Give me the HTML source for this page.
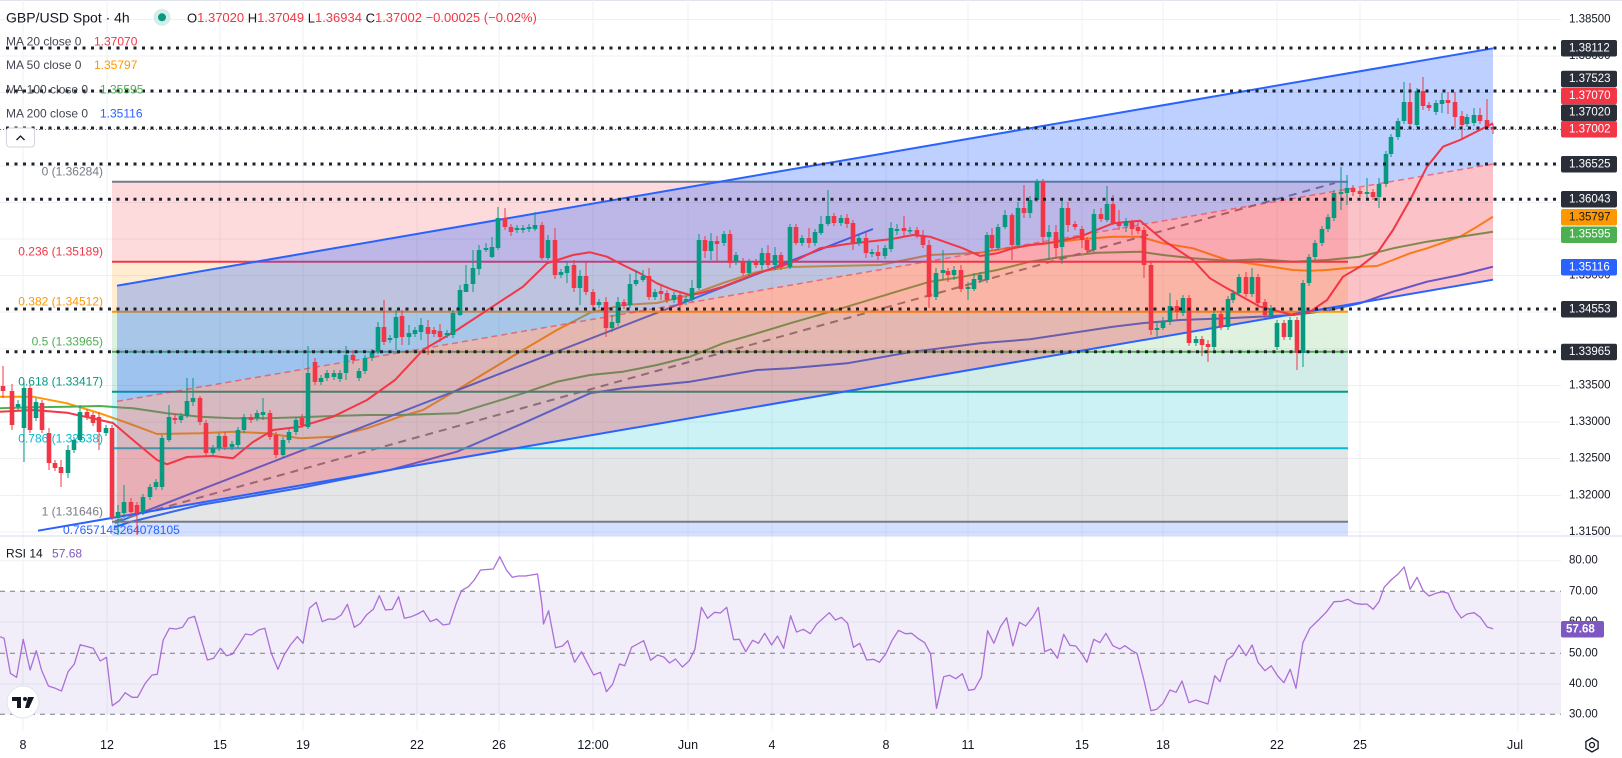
<!DOCTYPE html>
<html><head><meta charset="utf-8"><style>
html,body{margin:0;padding:0;background:#fff;}
svg{display:block;font-family:"Liberation Sans",sans-serif;}
</style></head><body>
<svg width="1622" height="758" viewBox="0 0 1622 758" xmlns="http://www.w3.org/2000/svg">
<rect width="1622" height="758" fill="#fff"/>
<line x1="0" y1="0.5" x2="1622" y2="0.5" stroke="#e0e3eb"/>
<!-- grid -->
<g stroke="#eef0f4" stroke-width="1">
<path d="M23 0V731M107 0V731M220 0V731M303 0V731M417 0V731M499 0V731M593 0V731M688 0V731M772 0V731M886 0V731M968 0V731M1082 0V731M1163 0V731M1277 0V731M1360 0V731M1518 0V731"/>
<path d="M0 19.5H1561M0 56H1561M0 92.5H1561M0 129H1561M0 166H1561M0 202.5H1561M0 239H1561M0 275.5H1561M0 312H1561M0 349H1561M0 385.5H1561M0 422H1561M0 458.5H1561M0 495.5H1561M0 532H1561"/>
<path d="M0 560.7H1561M0 622H1561M0 684H1561"/>
</g>
<!-- RSI pane -->
<rect x="0" y="591.3" width="1561" height="123" fill="rgba(126,87,194,0.1)"/>
<g stroke="#787b86" stroke-width="1" stroke-dasharray="5 5">
<path d="M0 591.3H1561M0 653.3H1561M0 714.3H1561"/>
</g>
<polyline fill="none" stroke="#ab6fd8" stroke-width="1.3" stroke-linejoin="round" points="0,636.7 4.1,638.3 10.4,673.3 16.6,677.3 23.2,639.3 30.1,670 36.3,650.7 41.5,670 48.4,686 55.3,688.3 61.5,691 68.1,671.7 74.3,664 80.2,644.7 93.3,648.3 100.2,661 106.5,657.3 112.3,705.7 119.3,700.7 125.1,692.7 132,697.3 137.6,697.3 145.2,683.3 152.1,675 157.3,674.3 163.2,640 169.4,628.3 176.3,629 182.5,627.3 188.4,618.3 194.6,616.3 200.5,636.7 207.4,660 213.6,658.3 220.5,648.3 226.4,655.7 232.3,654.3 238.5,645 245.4,634 251.6,635 258.6,630 264.8,628.3 271.3,653.3 277.9,669.3 284.1,655 290.4,645 297.3,636.7 303.1,643.3 309.4,608.3 316.3,602.3 322.2,621.7 328.4,619 334.6,619.3 341.2,615 347.4,604.3 354.3,627.3 360.5,623.3 366.4,615 373.3,609.3 379.3,595.7 385.4,610 392.3,609.3 398.6,596.7 404.4,618.3 411.3,616.7 417.6,614 423.4,610.7 430.3,621.7 436.6,619 443.1,625 449.4,624 456.3,603.3 461.5,590.7 468.4,586.7 474.3,580 480.5,570 493.3,569 499.8,556.7 506.4,570 512.3,577.3 518.5,576 525.4,576 537.5,574 542,605 543.5,624 548.6,610.7 555.6,647.7 562.5,646 567.7,640.7 574.6,662.3 581.5,651.7 593.6,675 600.5,672.3 606.4,691.7 612.6,684.3 619.5,664 624.7,665.7 631.6,647.3 643.7,640.7 650.6,660.3 657.5,655 663.7,657 669.6,663 675.5,659 682.4,667 689.3,660.7 694.9,649.3 701.4,607.3 707.6,618.3 714.6,612.3 720.4,613 726.7,607.3 733.6,639.7 739.4,639.3 745.7,651.7 752.6,640.3 758.5,643.3 764.7,633.3 771.6,645 777.5,636 783.7,648.3 790.6,615.7 796.5,632 803.4,629.3 810.3,633.7 816.5,624.3 829.3,612.7 835.5,620 841.4,617.3 847.6,623.3 853.5,647.3 859.7,643.3 866.7,660 873.6,659.3 879.4,662.3 885.7,654 891.9,640.7 898.5,630.3 905.4,633.7 911.6,633.3 917.8,638.3 924.7,642.7 930.6,654 936.5,708.3 943.7,676.7 949.6,675.3 955.8,678.7 962.4,673.7 968.6,690.3 974.5,689.3 981.4,677 987.6,630.7 993.9,643.3 1000.4,626.7 1006.6,617.7 1012.9,646 1019.4,622.3 1025.6,626 1032.6,617.3 1038.4,607.3 1044.7,651.7 1050.9,649 1057.5,658.3 1063.7,634.3 1069.9,645.3 1075.8,646 1082,654 1086.9,662.3 1093.8,639.3 1100,642.7 1105.9,633.3 1112.8,645.7 1119.8,649 1124.9,645.7 1131.9,650.7 1137,653.3 1143.9,680 1150.9,710.7 1156.7,709.3 1163,703.3 1169.9,690 1176.1,692.3 1182,681 1188.9,702.7 1195.8,700 1207.9,704 1214.8,675.7 1220,681.7 1226.9,660 1232.8,655.7 1239,645 1245.9,655.7 1252.1,645 1258,662.3 1264.9,670.7 1271.2,665.7 1277.7,676 1283.9,682.7 1290.2,669.3 1296,688.3 1302.9,642.7 1309.9,628.3 1318.5,620 1326.1,612.3 1334.1,601.7 1342,601.3 1347.9,599.3 1354.8,603.3 1361.7,604.3 1366.9,604 1373.1,609.3 1379,601.7 1384.2,587.3 1391.1,580 1398,574 1404.2,567 1410.1,589.3 1417,577.3 1423.2,590.7 1429.1,596 1436,593.3 1442.2,591.7 1448.1,593.3 1455,609 1461.3,618 1467.1,614 1474.1,612.7 1480.3,617.3 1487.2,627 1493.1,628.7"/>

<!-- MAs under drawings -->
<g fill="none" stroke-width="2" stroke-linejoin="round">
<polyline stroke="#ff9800" points="0,396.7 33,396.7 67,403.3 100,413.3 133,425 157,434 200,433.3 233,431.7 267,433.3 300,438.3 333,436.7 367,428.3 400,416.7 423,410 457,390 490,370 523,350 540,340 557,330 590,312.7 623,305 657,303 690,295 723,283 757,272 790,267 880,265 930,255 980,252.7 1013,247.3 1047,243.3 1080,239.3 1113,236.7 1140,236.7 1163,243.3 1193,248.3 1227,260 1260,265 1293,270 1310,270.7 1327,270 1360,266.7 1377,266 1393,260 1410,253.3 1427,248.3 1460,236.7 1477,226.7 1493,216.7"/>
<polyline stroke="#4caf50" points="0,408.3 33,407.3 67,406.7 100,406 133,408.3 167,413.3 200,416.7 233,418.3 267,418.3 300,417.3 333,416 367,415 400,415 457,413.3 490,403.3 523,393.3 557,381.7 590,375 623,371.7 657,365 690,356.7 723,343.3 757,333.3 790,323.3 813,316.7 847,306.7 880,296.7 913,286.7 930,281.7 963,276.7 997,270 1030,261.7 1063,256.7 1097,252.7 1140,251.7 1163,255 1193,258.3 1227,260.7 1260,259.3 1293,261.7 1327,260 1360,256.7 1393,248.3 1427,241.7 1460,236.7 1493,231.7"/>
<polyline stroke="#2962ff" points="115,527 130,522 200,505 300,488 390,470 457,451.7 523,423.3 590,393.3 623,388.3 690,381.7 757,370 790,368.3 847,363.3 913,351.7 980,343.3 1030,339.3 1080,331.7 1113,326.7 1147,322.7 1180,320 1227,318.3 1293,315 1327,310.7 1360,303.3 1393,291.7 1427,281.7 1460,275 1493,266.7"/>
</g>
<line x1="115" y1="523" x2="873" y2="229" stroke="#2962ff" stroke-width="2"/>
<line x1="115" y1="521" x2="1335" y2="183" stroke="#787b86" stroke-width="2" stroke-dasharray="8 6"/>

<!-- Fib retracement -->
<rect x="112" y="181.7" width="1236" height="80" fill="rgba(242,54,69,0.18)"/>
<rect x="112" y="261.7" width="1236" height="50" fill="rgba(255,152,0,0.18)"/>
<rect x="112" y="311.7" width="1236" height="40" fill="rgba(76,175,80,0.18)"/>
<rect x="112" y="351.7" width="1236" height="40" fill="rgba(8,153,129,0.18)"/>
<rect x="112" y="391.7" width="1236" height="56.6" fill="rgba(0,188,212,0.2)"/>
<rect x="112" y="448.3" width="1236" height="73.4" fill="rgba(120,123,134,0.2)"/>
<rect x="112" y="521.7" width="1236" height="14" fill="rgba(41,98,255,0.2)"/>
<g stroke-width="2">
<line x1="112" y1="181.7" x2="1348" y2="181.7" stroke="#787b86"/>
<line x1="112" y1="261.7" x2="1348" y2="261.7" stroke="#f23645"/>
<line x1="112" y1="311.7" x2="1348" y2="311.7" stroke="#ff9800"/>
<line x1="112" y1="351.7" x2="1348" y2="351.7" stroke="#4caf50"/>
<line x1="112" y1="391.7" x2="1348" y2="391.7" stroke="#089981"/>
<line x1="112" y1="448.3" x2="1348" y2="448.3" stroke="#00bcd4"/>
<line x1="112" y1="521.7" x2="1348" y2="521.7" stroke="#787b86"/>
</g>

<!-- Parallel channel -->
<polygon points="117,285.7 1493,48.3 1493,164 117,401.4" fill="rgba(41,98,255,0.3)"/>
<polygon points="117,401.4 1493,164 1493,279.7 117,517.1" fill="rgba(242,54,69,0.3)"/>
<line x1="117" y1="285.7" x2="1493" y2="48.3" stroke="#2962ff" stroke-width="2"/>
<line x1="38" y1="530.7" x2="1493" y2="279.7" stroke="#2962ff" stroke-width="2"/>
<line x1="117" y1="401.4" x2="1493" y2="164" stroke="#f23645" stroke-opacity="0.6" stroke-width="1.5" stroke-dasharray="6 4"/>

<!-- MA20 on top -->
<polyline fill="none" stroke="#f23645" stroke-width="2" stroke-linejoin="round" points="0,411.7 33,410 67,412.7 100,420 113,423 133,440 157,460 167,464.3 187,457 213,456 233,458.3 253,442 273,430 300,426.7 333,416.7 367,400 395,380 423,350 457,330 490,308.3 523,286.7 547,263.3 573,255 590,252.3 607,256.7 623,265 640,273.3 657,283.3 673,290 690,295 700,293.3 723,286.7 757,273.3 790,263.3 820,248.3 847,244 890,239.3 913,235 930,236.7 963,248.3 980,256 997,253.3 1013,248.3 1030,245 1047,243.3 1080,236.7 1113,223.3 1140,220.7 1163,240 1193,260 1210,278.3 1227,288.3 1260,306.7 1293,315 1310,311.7 1327,300 1343,276.7 1360,266.7 1377,253.3 1393,230 1410,200 1427,166.7 1443,146.7 1460,140 1493,123.3"/>

<!-- Fib labels -->
<g font-size="12" text-anchor="end" dominant-baseline="central">
<text x="103" y="171.7" fill="#787b86">0 (1.36284)</text>
<text x="103" y="251.7" fill="#f23645">0.236 (1.35189)</text>
<text x="103" y="301.7" fill="#ff9800">0.382 (1.34512)</text>
<text x="103" y="341.7" fill="#4caf50">0.5 (1.33965)</text>
<text x="103" y="381.7" fill="#089981">0.618 (1.33417)</text>
<text x="103" y="438.3" fill="#00bcd4">0.786 (1.32638)</text>
<text x="103" y="511.7" fill="#787b86">1 (1.31646)</text>
</g>
<text x="63" y="530" font-size="12" fill="#2962ff" dominant-baseline="central">0.7657145264078105</text>

<!-- Candles: green -->
<g stroke="#089981" fill="none">
<path stroke-width="1" d="M18 400V410M24 382V462M36 398V421M68 445V478M74 437V453M80 405V442M106 425V436M118 505V535M124 485V518M143 494V515M150 484V500M156 479V490M162 435V490M169 405V442M181 413V423M187 378V418M193 378V406M213 445V456M219 433V451M232 441V450M238 427V448M244 414V433M257 410V421M263 398V420M283 437V458M289 429V443M296 417V435M308 346V429M321 375V385M327 370V381M334 370V380M340 370V382M346 346V380M359 368V381M365 355V374M372 349V361M378 322V354M390 335V343M396 310V350M409 325V345M415 327V337M421 318V340M447 330V338M453 310V338M460 285V316M466 265V292M473 250V292M479 245V275M486 243V252M492 237V258M498 207V250M517 225V233M523 225V233M529 224V232M535 212V231M548 235V260M561 269V278M567 262V283M580 270V305M599 299V308M612 315V332M618 297V326M630 274V308M636 270V286M643 270V282M655 289V300M674 292V303M686 296V305M692 280V302M699 234V290M711 233V260M724 231V246M736 252V265M749 259V276M762 248V270M775 247V270M790 224V269M802 235V246M815 229V246M821 216V235M828 190V226M841 215V226M859 235V246M872 249V257M885 245V259M891 222V252M897 224V235M910 227V234M936 268V300M943 250V280M954 266V280M968 282V300M974 273V291M980 272V283M987 232V283M998 224V250M1005 210V229M1018 202V248M1030 196V218M1037 179V202M1049 225V260M1062 200V264M1094 209V252M1107 186V222M1126 218V232M1157 322V337M1163 317V330M1170 293V325M1183 295V316M1196 336V346M1214 311V350M1228 296V330M1233 290V303M1239 274V296M1252 268V297M1271 305V318M1277 320V350M1290 317V340M1303 280V367M1309 254V286M1315 240V260M1322 226V246M1328 214V232M1334 190V221M1341 167V210M1347 175V205M1367 178V200M1379 178V208M1386 151V187M1391 134V157M1398 118V140M1404 82V124M1417 88V128M1436 100V115M1442 93V113M1467 114V127M1474 108V126"/>
<path stroke-width="4.6" d="M18 404V407M24 388V428M36 402V418M68 450V473M74 440V450M80 412V440M106 428V433M118 512V518M124 502V513M143 497V512M150 487V497M156 482V487M162 438V487M169 417V440M181 416V420M187 401V416M193 398V402M213 448V453M219 436V448M232 444V447M238 430V445M244 417V430M257 413V418M263 412V415M283 440V455M289 432V440M296 420V432M308 373V427M321 378V382M327 373V378M334 373V377M340 373V379M346 355V373M359 371V378M365 358V371M372 352V358M378 327V352M390 338V340M396 317V338M409 333V337M415 330V334M421 325V332M447 333V335M453 313V335M460 290V315M466 284V292M473 268V284M479 250V269M486 248V250M492 247V257M498 218V248M517 228V230M523 228V230M529 227V229M535 225V229M548 240V258M561 272V275M567 266V273M580 276V288M599 302V305M612 322V328M618 302V323M630 284V305M636 280V284M643 276V280M655 292V297M674 295V300M686 299V302M692 288V300M699 240V288M711 241V251M724 234V243M736 255V262M749 262V273M762 253V265M775 255V265M790 227V267M802 238V243M815 232V243M821 224V233M828 216V224M841 218V223M859 238V243M872 252V254M885 248V256M891 228V249M897 229V231M910 230V231.5M936 273V297M943 270V273M954 270V275M968 287V289M974 279V289M980 275V280M987 235V280M998 227V248M1005 215V227M1018 208V245M1030 200V213M1037 181V200M1049 232V237M1062 208V247M1094 214V250M1107 204V220M1126 221V226M1157 328V330M1163 322V328M1170 306V322M1183 298V313M1196 339V343M1214 314V347M1228 299V327M1233 293V300M1239 277V293M1252 277V294M1271 308V315M1277 323V347M1290 320V337M1303 283V353M1309 257V283M1315 243V257M1322 229V243M1328 217V229M1334 193V218M1341 192V194M1347 188V193M1367 192V194M1379 184V197M1386 154V184M1391 137V154M1398 121V137M1404 102V121M1417 91V125M1436 103V112M1442 100V104M1467 117V124M1474 115V123"/>
</g>
<!-- Candles: red -->
<g stroke="#f23645" fill="none">
<path stroke-width="1" d="M3 366V398M12 384V430M30 385V433M42 400V433M49 428V470M55 460V471M61 460V487M87 409V420M93 412V426M99 412V450M112 425V520M131 498V515M137 502V535M175 414V424M200 396V425M206 420V456M225 432V450M251 414V423M270 410V440M276 432V458M302 414V428M315 358V385M353 350V364M384 300V345M402 310V345M428 320V355M434 327V337M440 324V342M505 208V230M511 224V236M542 222V260M555 228V279M574 260V292M586 262V295M593 289V308M606 297V337M624 299V309M649 268V300M661 284V300M667 290V303M680 292V312M705 236V258M717 236V262M730 230V268M743 258V276M756 259V268M768 245V268M781 252V270M796 224V245M809 228V248M834 213V226M847 214V228M853 220V250M866 232V258M878 245V260M904 216V236M917 227V238M923 230V248M929 240V308M948 268V282M961 265V292M992 228V250M1012 213V260M1024 185V218M1043 179V245M1056 225V258M1068 202V232M1075 221V230M1082 226V248M1087 237V253M1101 208V222M1113 195V225M1119 210V230M1132 220V235M1138 222V234M1144 227V278M1151 262V335M1177 300V320M1189 295V346M1202 336V356M1208 340V362M1221 311V330M1246 272V297M1258 274V306M1265 299V318M1284 320V340M1297 317V370M1353 185V196M1360 188V197M1373 189V200M1410 83V127M1423 77V110M1429 102V111M1448 92V114M1455 92V128M1462 111V140M1480 108V124M1487 99V130M1493 124V134"/>
<path stroke-width="4.6" d="M3 386V391M12 391V425M30 388V430M42 403V430M49 433V463M55 463V468M61 467V473M87 412V417M93 415V423M99 417V432M112 428V518M131 502V512M137 505V513M175 418V420M200 398V422M206 423V453M225 436V447M251 417V420M270 413V437M276 435V455M302 418V425M315 362V382M353 355V360M384 327V342M402 316V337M428 327V334M434 330V334M440 331V337M505 218V227M511 227V232M542 225V258M555 240V275M574 265V288M586 276V292M593 292V305M606 302V328M624 302V306M649 276V297M661 291V294M667 293V300M680 295V305M705 240V251M717 241V244M730 234V263M743 262V273M756 262V265M768 253V265M781 255V267M796 227V243M809 238V243M834 216V223M847 218V224M853 223V243M866 238V253M878 252V256M904 228V231M917 230V235M923 236V245M929 245V297M948 271V275M961 270V289M992 235V248M1012 215V245M1024 208V213M1043 181V237M1056 232V248M1068 208V225M1075 224V227M1082 229V240M1087 240V250M1101 214V219M1113 204V223M1119 222V226M1132 222V229M1138 227V231M1144 230V265M1151 265V330M1177 306V312M1189 298V343M1202 339V345M1208 344V347M1221 314V327M1246 277V294M1258 277V303M1265 302V315M1284 323V337M1297 320V353M1353 188V192M1360 191V194M1373 192V197M1410 102V124M1423 91V106M1429 105V108M1448 100V103M1455 102V117M1462 116V125M1480 115V121M1487 120V128M1493 127V129"/>
</g>

<!-- Horizontal dotted lines -->
<g stroke="#1e222d" stroke-width="3" stroke-dasharray="3 5.5">
<path d="M6 48H1561M6 91H1561M6 128H1561M6 164H1561M6 199.3H1561M6 309H1561M6 351.7H1561"/>
</g>
<line x1="0" y1="129.5" x2="1561" y2="129.5" stroke="#f23645" stroke-width="1" stroke-dasharray="1 2"/>

<!-- Legend -->
<text x="6" y="17.3" font-size="14" fill="#131722" dominant-baseline="central">GBP/USD Spot · 4h</text>
<circle cx="162" cy="17.3" r="8.5" fill="#d3ede8"/>
<circle cx="162" cy="17.3" r="4" fill="#089981"/>
<text x="187" y="17.3" font-size="13" dominant-baseline="central" fill="#f23645"><tspan fill="#131722">O</tspan>1.37020 <tspan fill="#131722">H</tspan>1.37049 <tspan fill="#131722">L</tspan>1.36934 <tspan fill="#131722">C</tspan>1.37002 −0.00025 (−0.02%)</text>
<g font-size="12" dominant-baseline="central">
<text x="6" y="41.7" fill="#434651">MA 20 close 0</text><text x="94" y="41.7" fill="#f23645">1.37070</text>
<text x="6" y="65" fill="#434651">MA 50 close 0</text><text x="94" y="65" fill="#ff9800">1.35797</text>
<text x="6" y="89.3" fill="#434651">MA 100 close 0</text><text x="100" y="89.3" fill="#4caf50">1.35595</text>
<text x="6" y="113.3" fill="#434651">MA 200 close 0</text><text x="100" y="113.3" fill="#2962ff">1.35116</text>
</g>
<rect x="6.5" y="128" width="28" height="19" rx="3" fill="#fff" stroke="#d1d4dc"/>
<path d="M16.5 140L20.5 136L24.5 140" fill="none" stroke="#131722" stroke-width="1.3"/>

<!-- RSI legend -->
<text x="6" y="553.3" font-size="12" dominant-baseline="central" fill="#131722">RSI 14 <tspan dx="6" fill="#7e57c2">57.68</tspan></text>
<!-- TV logo -->
<circle cx="23" cy="702" r="16" fill="#fff" stroke="#e0e3eb"/>
<path d="M12 697h9v11h-4v-7h-5z" fill="#131722"/>
<circle cx="25" cy="699" r="2" fill="#131722"/>
<path d="M28 697h6l-5 11h-4z" fill="#131722"/>

<!-- Pane separator -->
<line x1="0" y1="536" x2="1622" y2="536" stroke="#d6dbe8" stroke-width="1"/>

<!-- Price axis -->
<g font-size="11.5" fill="#131722" dominant-baseline="central">
<text x="1569" y="19.3">1.38500</text>
<text x="1569" y="55.9">1.38000</text>
<text x="1569" y="275.6">1.35000</text>
<text x="1569" y="385.5">1.33500</text>
<text x="1569" y="422.1">1.33000</text>
<text x="1569" y="458.7">1.32500</text>
<text x="1569" y="495.4">1.32000</text>
<text x="1569" y="532">1.31500</text>
<text x="1569" y="560.7">80.00</text>
<text x="1569" y="591.3">70.00</text>
<text x="1569" y="622">60.00</text>
<text x="1569" y="653.3">50.00</text>
<text x="1569" y="684">40.00</text>
<text x="1569" y="714.3">30.00</text>
</g>
<g>
<rect x="1561" y="40.05" width="56" height="16.5" rx="2" fill="#2a2e39"/>
<rect x="1561" y="70.75" width="56" height="16.5" rx="2" fill="#2a2e39"/>
<rect x="1561" y="87.75" width="56" height="16.5" rx="2" fill="#f23645"/>
<rect x="1561" y="104.45" width="56" height="16.5" rx="2" fill="#2a2e39"/>
<rect x="1561" y="121.05" width="56" height="16.5" rx="2" fill="#f23645"/>
<rect x="1561" y="156.05" width="56" height="16.5" rx="2" fill="#2a2e39"/>
<rect x="1561" y="191.05" width="56" height="16.5" rx="2" fill="#2a2e39"/>
<rect x="1561" y="209.05" width="56" height="16.5" rx="2" fill="#ff9800"/>
<rect x="1561" y="226.45" width="56" height="16.5" rx="2" fill="#4caf50"/>
<rect x="1561" y="259.05" width="56" height="16.5" rx="2" fill="#2962ff"/>
<rect x="1561" y="301.05" width="56" height="16.5" rx="2" fill="#2a2e39"/>
<rect x="1561" y="343.75" width="56" height="16.5" rx="2" fill="#2a2e39"/>
<rect x="1561" y="621" width="43" height="16.5" rx="2" fill="#7e57c2"/>
</g>
<g font-size="11.5" fill="#fff" dominant-baseline="central">
<text x="1569" y="48.3">1.38112</text>
<text x="1569" y="79">1.37523</text>
<text x="1569" y="96">1.37070</text>
<text x="1569" y="112.7">1.37020</text>
<text x="1569" y="129.3">1.37002</text>
<text x="1569" y="164.3">1.36525</text>
<text x="1569" y="199.3">1.36043</text>
<text x="1569" y="217.3" fill="#131722">1.35797</text>
<text x="1569" y="234.7">1.35595</text>
<text x="1569" y="267.3">1.35116</text>
<text x="1569" y="309.3">1.34553</text>
<text x="1569" y="352">1.33965</text>
<text x="1566" y="629.3" font-weight="bold">57.68</text>
</g>

<!-- Time axis -->
<g font-size="12.5" fill="#131722" text-anchor="middle" dominant-baseline="central">
<text x="23" y="745">8</text>
<text x="107" y="745">12</text>
<text x="220" y="745">15</text>
<text x="303" y="745">19</text>
<text x="417" y="745">22</text>
<text x="499" y="745">26</text>
<text x="593" y="745">12:00</text>
<text x="688" y="745">Jun</text>
<text x="772" y="745">4</text>
<text x="886" y="745">8</text>
<text x="968" y="745">11</text>
<text x="1082" y="745">15</text>
<text x="1163" y="745">18</text>
<text x="1277" y="745">22</text>
<text x="1360" y="745">25</text>
<text x="1515" y="745">Jul</text>
</g>
<polygon points="1592,738 1598.1,741.5 1598.1,748.5 1592,752 1585.9,748.5 1585.9,741.5" fill="none" stroke="#131722" stroke-width="1.3"/>
<circle cx="1592" cy="745" r="2.5" fill="none" stroke="#131722" stroke-width="1.3"/>
</svg>
</body></html>
